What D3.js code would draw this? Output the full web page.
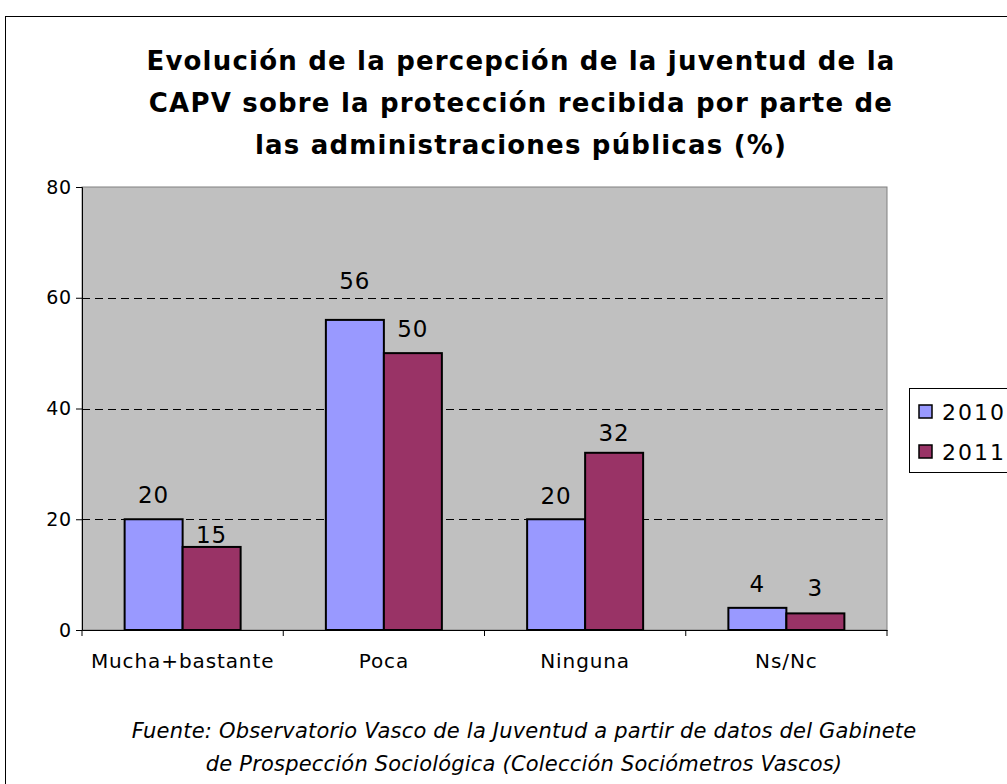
<!DOCTYPE html>
<html>
<head>
<meta charset="utf-8">
<script src="https://cdn.jsdelivr.net/npm/d3@7"></script>
<style>
  body { margin: 0; background: #fff; }
  svg text { font-family: "DejaVu Sans", Verdana, sans-serif; fill: #000; }
</style>
</head>
<body>
<svg id="chart" width="1007" height="784"></svg>
<script>
// data
const categories = ["Mucha+bastante", "Poca", "Ninguna", "Ns/Nc"];
const seriesNames = ["2010", "2011"];
const values2010 = [20, 56, 20, 4];
const values2011 = [15, 50, 32, 3];
const yTicks = [0, 20, 40, 60, 80];
const seriesColors = ["#9999FF", "#993366"];
const titleLines = [
    "Evolución de la percepción de la juventud de la",
    "CAPV sobre la protección recibida por parte de",
    "las administraciones públicas (%)"
];
const sourceLines = [
    "Fuente: Observatorio Vasco de la Juventud a partir de datos del Gabinete",
    "de Prospección Sociológica (Colección Sociómetros Vascos)"
];
// the labels were nudged by hand in the original, px above the bar top
const labelGap2010 = [16, 31, 15, 16];
const labelGap2011 = [4, 16, 12, 17];

const svg = d3.select("#chart");

// outer chart frame (runs off the right/bottom edge like the original)
svg.append("rect")
    .attr("x", 5.5).attr("y", 16.5)
    .attr("width", 1100).attr("height", 900)
    .attr("fill", "#fff").attr("stroke", "#000");

svg.append("g").selectAll("text")
    .data(titleLines)
    .join("text")
    .attr("x", 521)
    .attr("y", (d, i) => 70 + i * 42)
    .attr("text-anchor", "middle")
    .attr("font-size", 26)
    .attr("font-weight", "bold")
    .attr("letter-spacing", 1.2)
    .text(d => d);

const plot = { left: 82, top: 187, right: 887, bottom: 630 };
const width = plot.right - plot.left;
const height = plot.bottom - plot.top;
const g = svg.append("g").attr("transform", `translate(${plot.left},${plot.top})`);

const x = d3.scaleBand().domain(categories).range([0, width]);
const xInner = d3.scaleBand().domain(seriesNames).range([0, 116]);
const y = d3.scaleLinear().domain([0, 80]).range([height, 0]);

g.append("rect")
    .attr("width", width).attr("height", height)
    .attr("fill", "#C0C0C0").attr("stroke", "#808080");

// dashed gridlines
g.append("g").selectAll("line")
    .data(yTicks.filter(t => t > 0 && t < 80))
    .join("line")
    .attr("x1", 0).attr("x2", width)
    .attr("y1", d => Math.round(y(d)) + 0.5).attr("y2", d => Math.round(y(d)) + 0.5)
    .attr("stroke", "#000")
    .attr("stroke-dasharray", "8,5");

const yAxis = g.append("g")
    .call(d3.axisLeft(y).tickValues(yTicks).tickSize(6).tickPadding(4));
yAxis.select(".domain").attr("stroke", "#000");
yAxis.selectAll("text")
    .attr("font-size", 19)
    .attr("letter-spacing", 0.8)
    .attr("font-family", "DejaVu Sans, Verdana, sans-serif");

const xAxis = g.append("g")
    .attr("transform", `translate(0,${height})`)
    .call(d3.axisBottom(x).tickSize(0).tickPadding(24));
xAxis.select(".domain").attr("stroke", "#000");
xAxis.selectAll("text")
    .attr("font-size", 20)
    .attr("letter-spacing", 0.9)
    .attr("font-family", "DejaVu Sans, Verdana, sans-serif");

// tick marks at category boundaries
g.append("g").selectAll("line")
    .data(d3.range(categories.length + 1))
    .join("line")
    .attr("x1", d => d * x.bandwidth()).attr("x2", d => d * x.bandwidth())
    .attr("y1", height).attr("y2", height + 6)
    .attr("stroke", "#000");

const rows = categories.map((c, i) => ({
    cat: c,
    vals: [
        { s: seriesNames[0], v: values2010[i], gap: labelGap2010[i], color: seriesColors[0] },
        { s: seriesNames[1], v: values2011[i], gap: labelGap2011[i], color: seriesColors[1] }
    ]
}));

const groups = g.append("g").selectAll("g")
    .data(rows)
    .join("g")
    .attr("transform", d => `translate(${x(d.cat) + (x.bandwidth() - 116) / 2},0)`);

groups.selectAll("rect")
    .data(d => d.vals)
    .join("rect")
    .attr("x", d => xInner(d.s))
    .attr("y", d => y(d.v))
    .attr("width", xInner.bandwidth())
    .attr("height", d => height - y(d.v))
    .attr("fill", d => d.color)
    .attr("stroke", "#000")
    .attr("stroke-width", 2);

groups.selectAll("text")
    .data(d => d.vals)
    .join("text")
    .attr("x", d => xInner(d.s) + xInner.bandwidth() / 2)
    .attr("y", d => y(d.v) - d.gap)
    .attr("text-anchor", "middle")
    .attr("font-size", 23)
    .attr("letter-spacing", 1)
    .text(d => d.v);

// legend
const legend = svg.append("g").attr("transform", "translate(909,388)");
legend.append("rect")
    .attr("x", 0.5).attr("y", 0.5)
    .attr("width", 200).attr("height", 84)
    .attr("fill", "#fff").attr("stroke", "#000");
const li = legend.selectAll("g.item")
    .data(seriesNames)
    .join("g")
    .attr("class", "item")
    .attr("transform", (d, i) => `translate(10,${17 + i * 40})`);
li.append("rect")
    .attr("width", 13).attr("height", 13)
    .attr("fill", (d, i) => seriesColors[i])
    .attr("stroke", "#000").attr("stroke-width", 1.5);
li.append("text")
    .attr("x", 23).attr("y", 15)
    .attr("font-size", 22)
    .attr("letter-spacing", 2)
    .text(d => d);

svg.append("g").selectAll("text")
    .data(sourceLines)
    .join("text")
    .attr("x", 524)
    .attr("y", (d, i) => 738 + i * 33)
    .attr("text-anchor", "middle")
    .attr("font-size", 21)
    .attr("font-style", "italic")
    .attr("letter-spacing", 0.2)
    .text(d => d);
</script>
</body>
</html>
